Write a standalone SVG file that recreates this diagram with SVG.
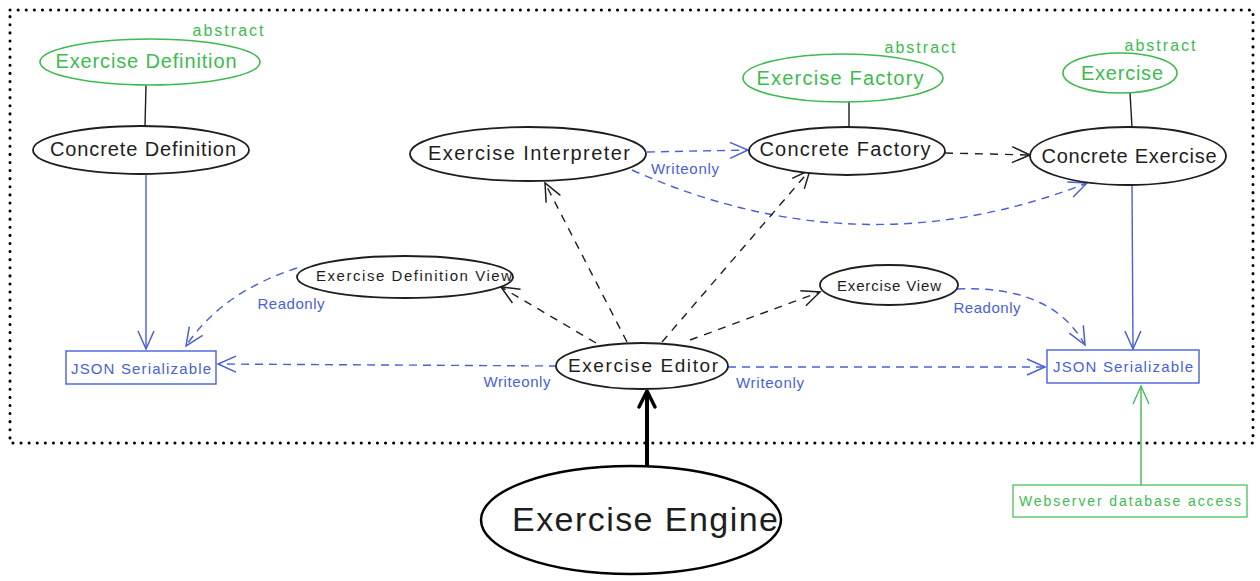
<svg xmlns="http://www.w3.org/2000/svg" width="1260" height="581" viewBox="0 0 1260 581">
<style>
text{font-family:"Liberation Sans",Arial,sans-serif;text-anchor:middle;dominant-baseline:central}
.blk{fill:#1e1e1e}
.blu{fill:#4a5fd8}
.grn{fill:#3dbb50}
.node{fill:#fff;stroke:#1e1e1e;stroke-width:1.8}
.gnode{fill:#fff;stroke:#3dbb50;stroke-width:1.6}
.box{fill:#fff;stroke:#4a5fd8;stroke-width:1.4}
.gbox{fill:#fff;stroke:#3dbb50;stroke-width:1.2}
.c{fill:none;stroke-width:1.4}
.kd{stroke:#1e1e1e;stroke-dasharray:8 7}
.ks{stroke:#1e1e1e}
.bd{stroke:#4a5fd8;stroke-dasharray:8 6}
.bs{stroke:#4a5fd8}
.gs{stroke:#3dbb50}
</style>
<defs>
<marker id="ak" viewBox="-20 -10 22 20" refX="0" refY="0" markerWidth="22" markerHeight="20" markerUnits="userSpaceOnUse" orient="auto"><path d="M-18,-8 L0,0 L-18,8" fill="none" stroke="#1e1e1e" stroke-width="1.5"/></marker>
<marker id="ab" viewBox="-20 -10 22 20" refX="0" refY="0" markerWidth="22" markerHeight="20" markerUnits="userSpaceOnUse" orient="auto"><path d="M-18,-8 L0,0 L-18,8" fill="none" stroke="#4a5fd8" stroke-width="1.5"/></marker>
<marker id="ag" viewBox="-20 -10 22 20" refX="0" refY="0" markerWidth="22" markerHeight="20" markerUnits="userSpaceOnUse" orient="auto"><path d="M-18,-8 L0,0 L-18,8" fill="none" stroke="#3dbb50" stroke-width="1.3"/></marker>
<marker id="at" viewBox="-20 -12 24 24" refX="0" refY="0" markerWidth="24" markerHeight="24" markerUnits="userSpaceOnUse" orient="auto"><path d="M-16,-8 L0,0 L-16,8" fill="none" stroke="#000" stroke-width="3.5" stroke-linecap="round" stroke-linejoin="round"/></marker>
</defs>
<rect width="1260" height="581" fill="#fff"/>
<rect id="boundary" x="10" y="10" width="1243" height="433" fill="none" stroke="#000" stroke-width="3" stroke-linecap="round" stroke-dasharray="0.1 8"/>

<g id="connectors">
<path class="c ks" d="M146,85 L145,126"/>
<path class="c ks" d="M849,102 L849,128"/>
<path class="c ks" d="M1130,93 L1132,127"/>
<path class="c bs" d="M146,175 L146,349" marker-end="url(#ab)"/>
<path class="c bs" d="M1132,185 L1133,349" marker-end="url(#ab)"/>
<path class="c gs" d="M1141,485 L1141,386" marker-end="url(#ag)"/>
<path class="c bd" d="M297,268 Q222,292 186,346" marker-end="url(#ab)"/>
<path class="c bd" d="M957,289 Q1052,285 1085,345" marker-end="url(#ab)"/>
<path class="c bd" d="M557,366 L218,364" marker-end="url(#ab)"/>
<path class="c bd" d="M728,367 L1045,367" marker-end="url(#ab)"/>
<path class="c bd" d="M647,152 L748,150" marker-end="url(#ab)"/>
<path class="c bd" d="M632,170 Q860,272 1087,183" marker-end="url(#ab)"/>
<path class="c kd" d="M945,153 L1030,155" marker-end="url(#ak)"/>
<path class="c kd" d="M596,343 L501,287" marker-end="url(#ak)"/>
<path class="c kd" d="M627,342 L545,183" marker-end="url(#ak)"/>
<path class="c kd" d="M662,342 L810,170" marker-end="url(#ak)"/>
<path class="c kd" d="M690,340 L820,292" marker-end="url(#ak)"/>
<path d="M647,466 L647,391" fill="none" stroke="#000" stroke-width="4" marker-end="url(#at)"/>
<text class="blu" x="291" y="303" font-size="15" textLength="67">Readonly</text>
<text class="blu" x="987" y="307" font-size="15" textLength="67">Readonly</text>
<text class="blu" x="517" y="381" font-size="15" textLength="67">Writeonly</text>
<text class="blu" x="770" y="382" font-size="15" textLength="68">Writeonly</text>
<text class="blu" x="685" y="168" font-size="15" textLength="68">Writeonly</text>
</g>

<g id="exercise-definition">
<ellipse class="gnode" cx="150" cy="62" rx="110" ry="23"/>
<text class="grn" x="146" y="61" font-size="20" textLength="181">Exercise Definition</text>
<text class="grn" x="228" y="30" font-size="16" textLength="71">abstract</text>
</g>
<g id="concrete-definition">
<ellipse class="node" cx="141" cy="150" rx="108" ry="24"/>
<text class="blk" x="143" y="149" font-size="20" textLength="186">Concrete Definition</text>
</g>
<g id="exercise-interpreter">
<ellipse class="node" cx="528" cy="154" rx="118" ry="27"/>
<text class="blk" x="529" y="153" font-size="20" textLength="202">Exercise Interpreter</text>
</g>
<g id="exercise-factory">
<ellipse class="gnode" cx="843" cy="78" rx="100" ry="24"/>
<text class="grn" x="840" y="78" font-size="20" textLength="167">Exercise Factory</text>
<text class="grn" x="920" y="47" font-size="16" textLength="71">abstract</text>
</g>
<g id="concrete-factory">
<ellipse class="node" cx="847" cy="151" rx="98" ry="24"/>
<text class="blk" x="845" y="149" font-size="20" textLength="171">Concrete Factory</text>
</g>
<g id="exercise">
<ellipse class="gnode" cx="1120" cy="73" rx="57" ry="20"/>
<text class="grn" x="1122" y="73" font-size="20" textLength="82">Exercise</text>
<text class="grn" x="1160" y="45" font-size="16" textLength="71">abstract</text>
</g>
<g id="concrete-exercise">
<ellipse class="node" cx="1128" cy="156" rx="98" ry="29"/>
<text class="blk" x="1129" y="156" font-size="20" textLength="175">Concrete Exercise</text>
</g>
<g id="exercise-definition-view">
<ellipse class="node" cx="405" cy="277" rx="108" ry="21"/>
<text class="blk" x="414" y="275" font-size="15" textLength="196">Exercise Definition View</text>
</g>
<g id="exercise-view">
<ellipse class="node" cx="889" cy="285" rx="69" ry="20"/>
<text class="blk" x="889" y="285" font-size="15" textLength="104">Exercise View</text>
</g>
<g id="exercise-editor">
<ellipse class="node" cx="642" cy="366" rx="86" ry="23"/>
<text class="blk" x="643" y="365" font-size="19" textLength="150">Exercise Editor</text>
</g>
<g id="json-left">
<rect class="box" x="66" y="351" width="150" height="33"/>
<text class="blu" x="141" y="368" font-size="15" textLength="140">JSON Serializable</text>
</g>
<g id="json-right">
<rect class="box" x="1047" y="350" width="152" height="33"/>
<text class="blu" x="1123" y="366" font-size="15" textLength="140">JSON Serializable</text>
</g>
<g id="exercise-engine">
<ellipse cx="631" cy="520" rx="150" ry="54" fill="#fff" stroke="#000" stroke-width="2.5"/>
<text class="blk" x="645" y="519" font-size="34" textLength="266">Exercise Engine</text>
</g>
<g id="webserver">
<rect class="gbox" x="1013" y="485" width="234" height="32"/>
<text class="grn" x="1130" y="501" font-size="14" textLength="222">Webserver database access</text>
</g>
</svg>
